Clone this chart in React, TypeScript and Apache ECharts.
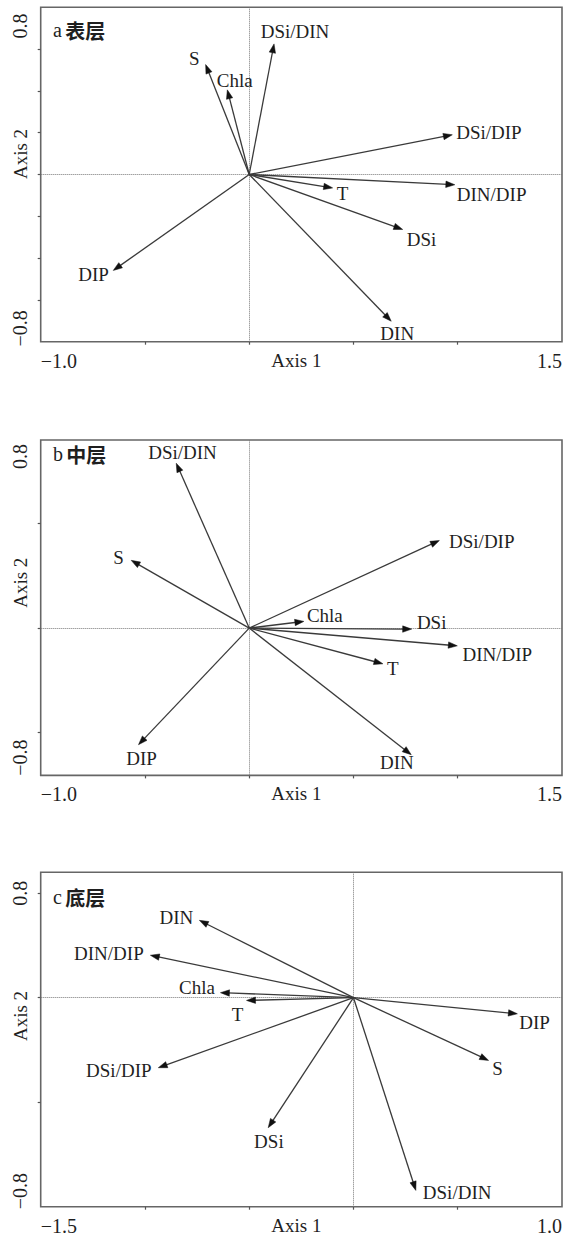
import React, { useEffect, useRef } from "react";
import * as echarts from "echarts";

// ---- data (RDA biplot vectors) ----
const namesA = ["DSi/DIN", "S", "Chla", "DSi/DIP", "T", "DIN/DIP", "DSi", "DIN", "DIP"];
const xA = [0.119, -0.209, -0.105, 0.974, 0.4, 0.986, 0.736, 0.681, -0.652];
const yA = [0.625, 0.526, 0.405, 0.19, -0.064, -0.049, -0.263, -0.702, -0.459];

const namesB = ["DSi/DIN", "S", "DSi/DIP", "Chla", "DSi", "DIN/DIP", "T", "DIN", "DIP"];
const xB = [-0.35, -0.566, 0.912, 0.262, 0.779, 0.998, 0.641, 0.777, -0.531];
const yB = [0.789, 0.324, 0.419, 0.032, -0.005, -0.085, -0.171, -0.606, -0.558];

const namesC = ["DIN", "DIN/DIP", "Chla", "T", "DSi/DIP", "DSi", "DSi/DIN", "S", "DIP"];
const xC = [-0.739, -0.974, -0.638, -0.513, -0.936, -0.409, 0.299, 0.648, 0.786];
const yC = [0.37, 0.203, 0.024, -0.013, -0.335, -0.622, -0.922, -0.3, -0.077];

const xTickLabelsAB = ["\u22121.0", "1.5"];
const xTickLabelsC = ["\u22121.5", "1.0"];
const yTickLabels = ["\u22120.8", "0.8"];
const panelLetters = ["a", "b", "c"];
const panelLayers = ["表层", "中层", "底层"];
const xAxisName = "Axis 1";
const yAxisName = "Axis 2";

// ---- styles / layout ----
const SERIF = "'Liberation Serif', 'DejaVu Serif', serif";
const TEXT = "#1f1f1f";

const offA: Record<string, number[]> = {
  "DSi/DIN": [21, -12], S: [-11.4, -5.7], Chla: [7.4, -9.3], "DSi/DIP": [36.6, -1.8],
  T: [10, 6], "DIN/DIP": [36.8, 9.5], DSi: [18.8, 10.2], DIN: [6, 11.8], DIP: [-19.7, 4.2],
};
const offB: Record<string, number[]> = {
  "DSi/DIN": [6.3, -10.8], S: [-12.6, -2.4], "DSi/DIP": [42.4, 1.3], Chla: [21, -5.9],
  DSi: [20, -6.8], "DIN/DIP": [40, 8.2], T: [10, 4.2], DIN: [-14.3, 7.5], DIP: [3, 14.2],
};
const offC: Record<string, number[]> = {
  DIN: [-23, -2.5], "DIN/DIP": [-41.5, -1.3], Chla: [-23.5, -5.3], T: [-9, 14.2],
  "DSi/DIP": [-39.5, 3], DSi: [0.7, 13.9], "DSi/DIN": [41.3, 1.7], S: [9, 7.8], DIP: [17.2, 9.2],
};

const GRID_LEFT = 40.7;
const GRID_WIDTH = 521.3;

const panels = [
  {
    names: namesA, xs: xA, ys: yA, off: offA,
    xMin: -1, xMax: 1.5, yMin: -0.8, yMax: 0.8,
    xTicks: [-0.5, 0, 0.5, 1.0], yTicks: [-0.6, -0.4, -0.2, 0, 0.2, 0.4, 0.6],
    yLabelAt: [-0.736, 0.711], xLabels: xTickLabelsAB,
    top: 7.3, height: 334.4, titleY: 31, nameShift: 20.5,
  },
  {
    names: namesB, xs: xB, ys: yB, off: offB,
    xMin: -1, xMax: 1.5, yMin: -0.705, yMax: 0.9,
    xTicks: [-0.5, 0, 0.5, 1.0], yTicks: [-0.5, 0, 0.5],
    yLabelAt: [-0.62, 0.821], xLabels: xTickLabelsAB,
    top: 440, height: 335.4, titleY: 455, nameShift: 25,
  },
  {
    names: namesC, xs: xC, ys: yC, off: offC,
    xMin: -1.5, xMax: 1.0, yMin: -1.0, yMax: 0.6,
    xTicks: [-1.0, -0.5, 0, 0.5], yTicks: [-0.5, 0, 0.5],
    yLabelAt: [-0.925, 0.5], xLabels: xTickLabelsC,
    top: 872.3, height: 334.4, titleY: 898, nameShift: 23.5,
  },
];

export default function App() {
  const ref = useRef<HTMLDivElement>(null);

  useEffect(() => {
    document.body.style.margin = "0";
    const chart = echarts.init(ref.current!, null, { renderer: "svg" });

    const grid: any[] = [];
    const xAxis: any[] = [];
    const yAxis: any[] = [];
    const series: any[] = [];
    const graphic: any[] = [];

    panels.forEach((p, i) => {
      grid.push({
        left: GRID_LEFT, top: p.top, width: GRID_WIDTH, height: p.height,
        show: true, borderColor: "#666", borderWidth: 1.6, backgroundColor: "transparent",
        containLabel: false, outerBoundsMode: "none",
      });
      xAxis.push({
        gridIndex: i, type: "value", min: p.xMin, max: p.xMax, interval: 0.5,
        axisLine: { show: false, onZero: false },
        splitLine: { show: false },
        axisTick: { show: true, length: 3, customValues: p.xTicks, lineStyle: { color: "#555", width: 1.2 } },
        axisLabel: {
          customValues: [p.xMin, p.xMax],
          formatter: (v: number) => (Math.abs(v - p.xMin) < 1e-6 ? p.xLabels[0] : p.xLabels[1]),
          alignMinLabel: "left", alignMaxLabel: "right",
          margin: 9, fontFamily: SERIF, fontSize: 20, color: TEXT,
        },
        name: xAxisName, nameLocation: "middle", nameGap: 9, nameMoveOverlap: false,
        nameTextStyle: { fontFamily: SERIF, fontSize: 19, color: TEXT, padding: [0, 10, 0, 0] },
      });
      yAxis.push({
        gridIndex: i, type: "value", min: p.yMin, max: p.yMax,
        axisLine: { show: false, onZero: false },
        splitLine: { show: false },
        axisTick: { show: true, length: 3, customValues: p.yTicks, lineStyle: { color: "#555", width: 1.2 } },
        axisLabel: {
          customValues: p.yLabelAt,
          formatter: (v: number) =>
            Math.abs(v - p.yLabelAt[0]) < Math.abs(v - p.yLabelAt[1]) ? yTickLabels[0] : yTickLabels[1],
          rotate: 90, margin: 11, fontFamily: SERIF, fontSize: 20, color: TEXT,
        },
      });

      const names = p.names;
      const off = p.off;
      series.push({
        type: "custom",
        xAxisIndex: i, yAxisIndex: i,
        clip: false,
        data: p.xs.map((x, k) => [x, p.ys[k]]),
        encode: { x: 0, y: 1 },
        renderItem: (params: any, api: any) => {
          const x = api.value(0);
          const y = api.value(1);
          const o = api.coord([0, 0]);
          const t = api.coord([x, y]);
          const dx = t[0] - o[0];
          const dy = t[1] - o[1];
          const len = Math.hypot(dx, dy) || 1;
          const ux = dx / len, uy = dy / len;
          const nx = -uy, ny = ux;
          const L = 9, W = 3.2;
          const bx = t[0] - ux * L, by = t[1] - uy * L;
          const name = names[params.dataIndex];
          const d = off[name] || [0, 0];
          return {
            type: "group",
            children: [
              {
                type: "line",
                shape: { x1: o[0], y1: o[1], x2: bx + ux * 2, y2: by + uy * 2 },
                style: { stroke: "#3a3a3a", lineWidth: 1.3 },
              },
              {
                type: "polygon",
                shape: { points: [[t[0], t[1]], [bx + nx * W, by + ny * W], [bx - nx * W, by - ny * W]] },
                style: { fill: "#111", stroke: "#111", lineWidth: 0.5 },
              },
              {
                type: "text",
                x: t[0] + d[0],
                y: t[1] + d[1],
                style: {
                  text: name, fontFamily: SERIF, fontSize: 19, fill: TEXT,
                  align: "center", verticalAlign: "middle",
                },
              },
            ],
          };
        },
        markLine: {
          silent: true, symbol: "none", z: 1,
          label: { show: false },
          lineStyle: { type: "dotted", color: "#777", width: 1 },
          data: [{ xAxis: 0 }, { yAxis: 0 }],
        },
      });

      graphic.push({
        type: "text",
        left: 53,
        top: p.titleY - 11,
        style: {
          text: `{l|${panelLetters[i]}} {c|${panelLayers[i]}}`,
          rich: {
            l: { fontFamily: SERIF, fontSize: 20, fill: TEXT, verticalAlign: "middle" },
            c: { fontFamily: "Noto Sans CJK SC", fontSize: 20, fontWeight: "bold", fill: TEXT, verticalAlign: "middle" },
          },
        },
      });
      graphic.push({
        type: "text",
        x: 20,
        y: p.top + p.height / 2 - p.nameShift,
        rotation: Math.PI / 2,
        style: {
          text: yAxisName, fontFamily: SERIF, fontSize: 19, fill: TEXT,
          align: "center", verticalAlign: "middle",
        },
      });
    });

    chart.setOption({
      animation: false,
      backgroundColor: "#fff",
      grid, xAxis, yAxis, series, graphic,
    });

    return () => chart.dispose();
  }, []);

  return <div ref={ref} style={{ width: 563, height: 1237 }} />;
}
